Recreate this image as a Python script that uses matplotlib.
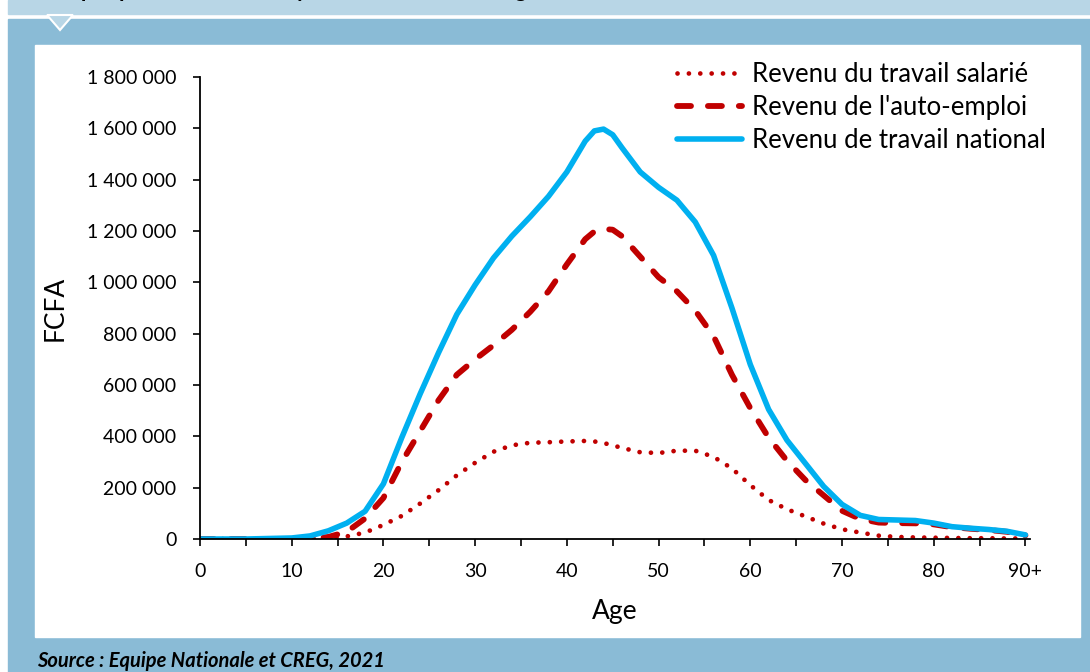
import numpy as np
import matplotlib
matplotlib.use("Agg")
import matplotlib.pyplot as plt
from matplotlib.patches import Rectangle, Polygon

plt.rcParams['font.family'] = ['Lato', 'DejaVu Sans']

# ages (90 = 90+)
ages = [0, 5, 10, 12, 14, 16, 18, 20, 22, 24, 26, 28, 30, 32, 34, 36, 38, 40, 42, 43, 44,
        45, 46, 48, 50, 52, 54, 56, 58, 60, 62, 64, 66, 68, 70, 72, 74, 76, 78, 80, 82,
        84, 86, 88, 90]

# Revenu du travail salarie (FCFA)
salarie = [0, 0, 0, 0, 3000, 10000, 25000, 55000, 90000, 138000, 190000, 248000, 297000,
           340000, 365000, 375000, 377000, 380000, 382000, 380000, 374000, 365000, 355000,
           338000, 335000, 344000, 344000, 320000, 275000, 210000, 152000, 116000, 88000,
           60000, 38000, 25000, 13000, 8000, 6000, 5000, 4000, 3000, 3000, 2000, 2000]

# Revenu de l'auto-emploi
auto_emploi = [0, 0, 0, 2000, 8000, 28000, 80000, 160000, 300000, 420000, 540000, 640000,
               700000, 755000, 815000, 885000, 965000, 1070000, 1168000, 1198000, 1208000,
               1205000, 1180000, 1100000, 1020000, 965000, 890000, 790000, 640000, 510000,
               395000, 305000, 230000, 170000, 110000, 78000, 64000, 62000, 61000, 57000,
               46000, 40000, 35000, 28000, 14000]

# Revenu de travail national
national = [0, 0, 4000, 12000, 32000, 62000, 108000, 215000, 395000, 565000, 725000,
            875000, 990000, 1095000, 1180000, 1255000, 1335000, 1430000, 1550000, 1590000,
            1597000, 1575000, 1525000, 1430000, 1370000, 1320000, 1235000, 1105000, 900000,
            680000, 505000, 385000, 295000, 205000, 135000, 92000, 76000, 74000, 72000,
            62000, 48000, 42000, 37000, 30000, 16000]

xtick_pos = [0, 10, 20, 30, 40, 50, 60, 70, 80, 90]
xtick_lab = ['0', '10', '20', '30', '40', '50', '60', '70', '80', '90+']
ytick_pos = list(range(0, 1800001, 200000))

W, H = 1090, 672
fig = plt.figure(figsize=(W / 100, H / 100), dpi=100)
fig.patch.set_facecolor('white')

band = '#B8D6E6'
frame = '#8ABBD6'

def px(x0, y0, w, h):
    # pixel box (top-left origin) -> figure fraction
    return (x0 / W, 1 - (y0 + h) / H, w / W, h / H)

x, y, w, h = px(8, 0, W - 8, 14)
fig.patches.append(Rectangle((x, y), w, h, transform=fig.transFigure, color=band, zorder=-3))
x, y, w, h = px(8, 19, W - 8, H - 19)
fig.patches.append(Rectangle((x, y), w, h, transform=fig.transFigure, color=frame, zorder=-3))
x, y, w, h = px(35, 45, 1045, 592)
fig.patches.append(Rectangle((x, y), w, h, transform=fig.transFigure, color='white', zorder=-2))
tri = [(47 / W, 1 - 15 / H), (73 / W, 1 - 15 / H), (60 / W, 1 - 30 / H)]
fig.patches.append(Polygon(tri, closed=True, transform=fig.transFigure,
                           facecolor=band, edgecolor='white', lw=1.5, zorder=-1))

# title strip, cut off at the top of the image
fig.text(45 / W, 1 + 3 / H, "Graphique 3 : Revenu moyen du travail selon l'âge",
         fontsize=16, fontweight='bold', va='baseline', ha='left', color='black')

ax = fig.add_axes([200 / W, 1 - 539 / H, 830 / W, 462 / H])
ax.set_zorder(2)
ax.set_facecolor('none')

ax.plot(ages, salarie, color='#C00000', lw=3.4, linestyle=(0, (0.01, 2.4)),
        dash_capstyle='round', solid_joinstyle='round', label='Revenu du travail salarié')
ax.plot(ages, auto_emploi, color='#C00000', lw=4.2, linestyle=(0, (2.4, 2.9)),
        dash_capstyle='round', solid_joinstyle='round', label="Revenu de l'auto-emploi")
ax.plot(ages, national, color='#00B0F0', lw=4.0, solid_capstyle='round',
        solid_joinstyle='round', label='Revenu de travail national')

ax.set_xlim(0, 90.5)
ax.set_ylim(0, 1800000)
ax.set_xticks(range(0, 91, 5), minor=True)
ax.set_xticks(xtick_pos)
ax.set_xticklabels(xtick_lab)
ax.set_yticks(ytick_pos)
ax.set_yticklabels([f"{v:,}".replace(',', ' ') for v in ytick_pos])
ax.tick_params(axis='both', which='both', direction='out', length=5, width=1.2,
               labelsize=14, color='black')
ax.tick_params(axis='y', pad=12)
ax.tick_params(axis='x', pad=12)
for s in ['top', 'right']:
    ax.spines[s].set_visible(False)
for s in ['left', 'bottom']:
    ax.spines[s].set_linewidth(1.3)

ax.set_xlabel('Age', fontsize=19, labelpad=14)
ax.set_ylabel('FCFA', fontsize=19, labelpad=14)

ax.legend(loc='upper right', bbox_to_anchor=(1056 / W, 1 - 52 / H),
          bbox_transform=fig.transFigure, frameon=False, fontsize=18.5,
          handlelength=2.5, handletextpad=0.4, labelspacing=0.3, borderaxespad=0)

fig.text(37 / W, 1 - 661 / H, 'Source : Equipe Nationale et CREG, 2021',
         fontsize=14.5, fontweight='bold', fontstyle='italic', va='center', ha='left')

fig.savefig('out.png', dpi=100)
